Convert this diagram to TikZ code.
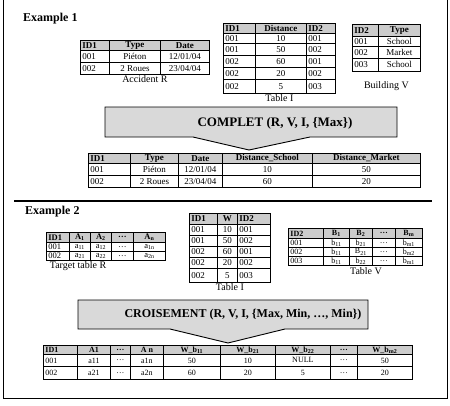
\documentclass[tikz,border=0pt]{standalone}
\usepackage{fontspec}
\setmainfont{Liberation Serif}
\usetikzlibrary{matrix,positioning}
\newcommand\fsz[1]{\fontsize{#1}{#1}\selectfont}
\newcommand\subix[1]{\textsubscript{#1}}
\definecolor{hdrgray}{gray}{0.80}
\definecolor{boxgray}{gray}{0.85}
\tikzset{
  tbl/.style={matrix of nodes, anchor=north west, inner sep=0pt,
    column sep=-0.4pt, row sep=-0.4pt,
    nodes={draw, line width=0.4pt, anchor=center, inner xsep=2pt, inner ysep=0pt,
      minimum height=12pt, font=\fsz{#1}},
    row 1/.style={nodes={fill=hdrgray, font=\bfseries\fsz{#1}}}},
  tbl/.default=9,
  colw/.style={nodes={minimum width=#1}},
  idcol/.style={nodes={text width=#1, align=left}},
  rowh/.style={nodes={minimum height=#1}},
  tblcap/.style={font=\fsz{10}, inner sep=1pt},
  exlabel/.style={anchor=west, font=\bfseries\fsz{12}, inner sep=0pt},
  callout/.style={draw, line width=0.9pt, fill=boxgray},
  calltext/.style={font=\bfseries\fsz{#1}, inner sep=0pt}
}
\begin{document}
\begin{tikzpicture}[x=1pt,y=-1pt]
  \useasboundingbox (0,0) rectangle (450,405);
  \draw (3,0) -- (3,398) -- (447,398) -- (447,0);

  % Example 1
  \node[exlabel] (ex1) at (23,19) {Example 1};
  \matrix[tbl=9, column 1/.style={idcol=25pt}, column 2/.style={colw=51pt},
    column 3/.style={colw=49pt}, row 1/.append style={rowh=10pt}] (accR) at (80,40) {
    ID1 & Type & Date \\
    001 & Piéton & 12/01/04 \\
    002 & 2 Roues & 23/04/04 \\
  };
  \node[tblcap, below=0pt of accR] (accRcap) {Accident R};

  \matrix[tbl=9, column 1/.style={idcol=28pt}, column 2/.style={colw=51pt},
    column 3/.style={idcol=25pt}, row 1/.append style={rowh=10pt},
    row 2/.style={rowh=10pt}, row 6/.style={rowh=14pt}] (tabI) at (223,23) {
    ID1 & Distance & ID2 \\
    001 & 10 & 001 \\
    001 & 50 & 002 \\
    002 & 60 & 001 \\
    002 & 20 & 002 \\
    002 & 5 & 003 \\
  };
  \node[tblcap, below=0pt of tabI] (tabIcap) {Table I};

  \matrix[tbl=9, column 1/.style={idcol=22pt}, column 2/.style={colw=42pt},
    row 2/.style={rowh=10pt}, row 4/.style={rowh=13pt}] (bldV) at (352,24) {
    ID2 & Type \\
    001 & School \\
    002 & Market \\
    003 & School \\
  };
  \node[tblcap, below=9pt of bldV] (bldVcap) {Building V};

  % callout 1 : tip points on the result table
  \draw[callout] (105,107) -- (397,107) -- (397,137) -- (310,137) -- (249,150)
    -- (193,137) -- (105,137) -- cycle;
  \node[calltext=13] (complet) at (275,123) {COMPLET (R, V, I, \{Max\})};

  \matrix[tbl=9, column 1/.style={idcol=38pt}, column 2/.style={colw=48pt},
    column 3/.style={colw=44pt}, column 4/.style={colw=90pt},
    column 5/.style={colw=108pt}, row 1/.append style={rowh=10pt}] (res1) at (88,153) {
    ID1 & Type & Date & Distance\_School & Distance\_Market \\
    001 & Piéton & 12/01/04 & 10 & 50 \\
    002 & 2 Roues & 23/04/04 & 60 & 20 \\
  };

  \draw[line width=2pt] (14,201) -- (432,201);

  % Example 2
  \node[exlabel] (ex2) at (25,212) {Example 2};
  \matrix[tbl=8.5, column 1/.style={idcol=19pt}, column 2/.style={colw=21pt},
    column 3/.style={colw=21pt}, column 4/.style={colw=22pt},
    column 5/.style={colw=32pt}, rowh=9pt, row 1/.append style={rowh=10pt}] (tarR) at (46,232) {
    ID1 & A\subix{1} & A\subix{2} & … & A\subix{n} \\
    001 & a\subix{11} & a\subix{12} & … & a\subix{1n} \\
    002 & a\subix{21} & a\subix{22} & … & a\subix{2n} \\
  };
  \node[tblcap] (tarRcap) at (78,266) {Target table R};

  \matrix[tbl=9, column 1/.style={idcol=24pt}, column 2/.style={colw=20pt},
    column 3/.style={idcol=29pt}, rowh=11pt, row 6/.style={rowh=14pt}] (tabII) at (189,213) {
    ID1 & W & ID2 \\
    001 & 10 & 001 \\
    001 & 50 & 002 \\
    002 & 60 & 001 \\
    002 & 20 & 002 \\
    002 & 5 & 003 \\
  };
  \node[tblcap, below=0pt of tabII] (tabIIcap) {Table I};

  \matrix[tbl=8, column 1/.style={idcol=31pt}, column 2/.style={colw=26pt},
    column 3/.style={colw=23pt}, column 4/.style={colw=23pt},
    column 5/.style={colw=27pt}, rowh=9pt, row 1/.append style={rowh=10pt}] (tabV) at (288,228) {
    ID2 & B\subix{1} & B\subix{2} & … & B\subix{m} \\
    001 & b\subix{11} & b\subix{21} & … & b\subix{m1} \\
    002 & b\subix{11} & B\subix{21} & … & b\subix{m2} \\
    003 & b\subix{11} & b\subix{22} & … & b\subix{m1} \\
  };
  \node[tblcap] (tabVcap) at (366,271) {Table V};

  % callout 2
  \draw[callout] (78,300) -- (368,300) -- (368,329) -- (285,329) -- (228,343)
    -- (170,329) -- (78,329) -- cycle;
  \node[calltext=12] (crois) at (243,315) {CROISEMENT (R, V, I, \{Max, Min, …, Min\})};

  \matrix[tbl=8, column 1/.style={idcol=30pt}, column 2/.style={colw=33pt},
    column 3/.style={colw=20pt}, column 4/.style={colw=33pt},
    column 5/.style={colw=57pt}, column 6/.style={colw=55pt},
    column 7/.style={colw=55pt}, column 8/.style={colw=27pt},
    column 9/.style={colw=55pt}, row 1/.append style={rowh=9pt},
    row 3/.style={rowh=13pt}] (res2) at (43,345) {
    ID1 & A1 & … & A n & W\_b\subix{11} & W\_b\subix{21} & W\_b\subix{22} & … & W\_b\subix{m2} \\
    001 & a11 & … & a1n & 50 & 10 & NULL & … & 50 \\
    002 & a21 & … & a2n & 60 & 20 & 5 & … & 20 \\
  };

  % heavier outer border on every table
  \foreach \t in {accR,tabI,bldV,res1,tarR,tabII,tabV,res2}
    \draw[line width=0.8pt] (\t.north west) rectangle (\t.south east);
\end{tikzpicture}
\end{document}
